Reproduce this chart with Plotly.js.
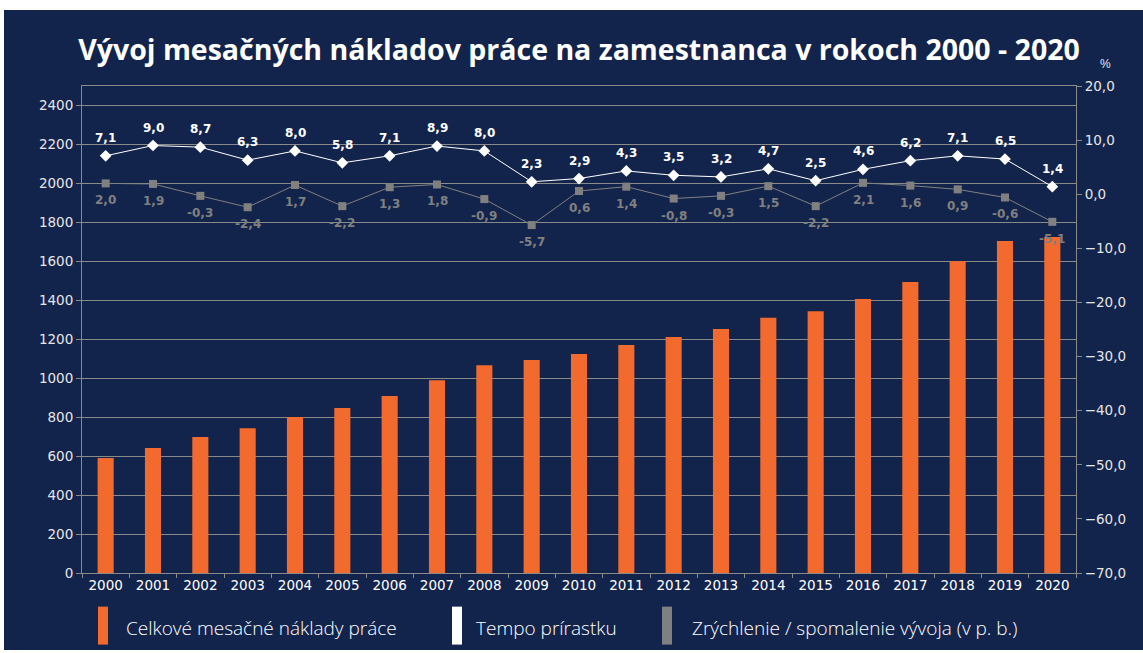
<!DOCTYPE html>
<html>
<head>
<meta charset="utf-8">
<script src="https://cdn.plot.ly/plotly-3.0.1.min.js"></script>
<style>
  html, body { margin: 0; padding: 0; background: #ffffff; }
  #chart { position: absolute; left: 4px; top: 10px; width: 1139px; height: 640px; }
</style>
</head>
<body>
<div id="chart"></div>
<script>
// ---- Data ----
const years = ['2000','2001','2002','2003','2004','2005','2006','2007','2008','2009','2010',
               '2011','2012','2013','2014','2015','2016','2017','2018','2019','2020'];
const laborCost = [590, 642, 698, 743, 801, 847, 908, 990, 1067, 1093, 1124,
                   1171, 1212, 1252, 1310, 1344, 1406, 1494, 1600, 1704, 1725];
const growthRate = [7.1, 9.0, 8.7, 6.3, 8.0, 5.8, 7.1, 8.9, 8.0, 2.3, 2.9,
                    4.3, 3.5, 3.2, 4.7, 2.5, 4.6, 6.2, 7.1, 6.5, 1.4];
const acceleration = [2.0, 1.9, -0.3, -2.4, 1.7, -2.2, 1.3, 1.8, -0.9, -5.7, 0.6,
                      1.4, -0.8, -0.3, 1.5, -2.2, 2.1, 1.6, 0.9, -0.6, -5.1];
const legendLabels = ['Celkové mesačné náklady práce', 'Tempo prírastku',
                      'Zrýchlenie / spomalenie vývoja (v p. b.)'];
const titleText = 'Vývoj mesačných nákladov práce na zamestnanca v rokoch 2000 - 2020';

// ---- Styles ----
const BG = '#13244c';
const ORANGE = '#f26a2e';
const GRAY = '#808080';
const AXIS = '#8a8a8a';

// page-pixel -> paper helpers (plot area: x 82..1076, y 85.5..573.3 in page coords)
const PX0 = 82, PX1 = 1076, PY0 = 85.5, PY1 = 573.3;
const px = x => (x - PX0) / (PX1 - PX0);
const py = y => (PY1 - y) / (PY1 - PY0);
const fmt = v => v.toFixed(1).replace('.', ',');

const traces = [
  {
    type: 'bar', x: years, y: laborCost, name: legendLabels[0],
    marker: { color: ORANGE }, yaxis: 'y', hoverinfo: 'x+y'
  },
  {
    type: 'scatter', mode: 'lines+markers', x: years, y: growthRate, name: legendLabels[1],
    yaxis: 'y2',
    line: { color: '#ffffff', width: 1 },
    marker: { symbol: 'diamond', size: 9, color: '#ffffff' }
  },
  {
    type: 'scatter', mode: 'lines+markers', x: years, y: acceleration, name: legendLabels[2],
    yaxis: 'y2',
    line: { color: GRAY, width: 1 },
    marker: { symbol: 'square', size: 8, color: GRAY }
  }
];

const legendX = [98, 452, 662];
const legendTextX = [124, 474, 690];
const legendColors = [ORANGE, '#ffffff', GRAY];

const shapes = legendColors.map((c, i) => ({
  type: 'rect', xref: 'paper', yref: 'paper',
  x0: px(legendX[i]), x1: px(legendX[i] + 10), y0: py(645), y1: py(607),
  fillcolor: c, line: { width: 0 }
}));

const annotations = legendLabels.map((t, i) => ({
  xref: 'paper', yref: 'paper', x: px(legendTextX[i]), y: py(628),
  xanchor: 'left', yanchor: 'middle', showarrow: false, text: t,
  font: { family: 'Open Sans', size: 19, color: '#ffffff', weight: 300 }
}));
annotations.push({
  xref: 'paper', yref: 'paper', x: px(1105), y: py(63),
  xanchor: 'center', yanchor: 'middle', showarrow: false, text: '%',
  font: { family: 'Liberation Sans', size: 12, color: '#e6e6e6' }
});
// data labels (x given as category index on the category axis)
years.forEach((yr, i) => {
  annotations.push({
    xref: 'x', yref: 'y2', x: i, y: growthRate[i], yshift: 18,
    xanchor: 'center', yanchor: 'middle', showarrow: false, text: '<b>' + fmt(growthRate[i]) + '</b>',
    font: { family: 'DejaVu Sans', size: 12, color: '#ffffff' }
  });
  annotations.push({
    xref: 'x', yref: 'y2', x: i, y: acceleration[i], yshift: -17,
    xanchor: 'center', yanchor: 'middle', showarrow: false, text: '<b>' + fmt(acceleration[i]) + '</b>',
    font: { family: 'DejaVu Sans', size: 12, color: GRAY }
  });
});

const layout = {
  width: 1139, height: 640,
  paper_bgcolor: BG, plot_bgcolor: BG,
  separators: ', ',
  showlegend: false,
  margin: { l: 78, r: 67, t: 75.5, b: 76.7, pad: 0 },
  title: {
    text: '<b>' + titleText + '</b>',
    x: 0.5, xref: 'paper', y: 1 - 40 / 640, yref: 'container', yanchor: 'middle',
    font: { family: 'Open Sans', size: 28.5, color: '#ffffff' }
  },
  bargap: 0.66,
  xaxis: {
    type: 'category', range: [-0.5, 20.5], autorange: false,
    showgrid: false, showline: true, mirror: true, linecolor: AXIS, linewidth: 1,
    ticks: 'outside', tickson: 'boundaries', ticklen: 4, tickcolor: AXIS,
    tickfont: { family: 'DejaVu Sans', size: 13.5, color: '#ffffff' },
    zeroline: false, fixedrange: true
  },
  yaxis: {
    range: [0, 2500], tick0: 0, dtick: 200, showgrid: true, gridcolor: AXIS, gridwidth: 1,
    showline: true, linecolor: AXIS, linewidth: 1, ticks: 'outside', ticklen: 5, tickcolor: AXIS,
    tickfont: { family: 'DejaVu Sans', size: 13.5, color: '#e6e6e6' },
    zeroline: false, tickformat: 'd', fixedrange: true
  },
  yaxis2: {
    overlaying: 'y', side: 'right', range: [-70, 20], tick0: 0, dtick: 10,
    showgrid: false, showline: true, linecolor: AXIS, linewidth: 1,
    ticks: 'outside', ticklen: 5, tickcolor: AXIS, tickformat: '.1f',
    tickfont: { family: 'DejaVu Sans', size: 13.5, color: '#e6e6e6' },
    zeroline: false, fixedrange: true
  },
  shapes: shapes,
  annotations: annotations
};

Plotly.newPlot('chart', traces, layout, { displayModeBar: false, responsive: false });
</script>
</body>
</html>
